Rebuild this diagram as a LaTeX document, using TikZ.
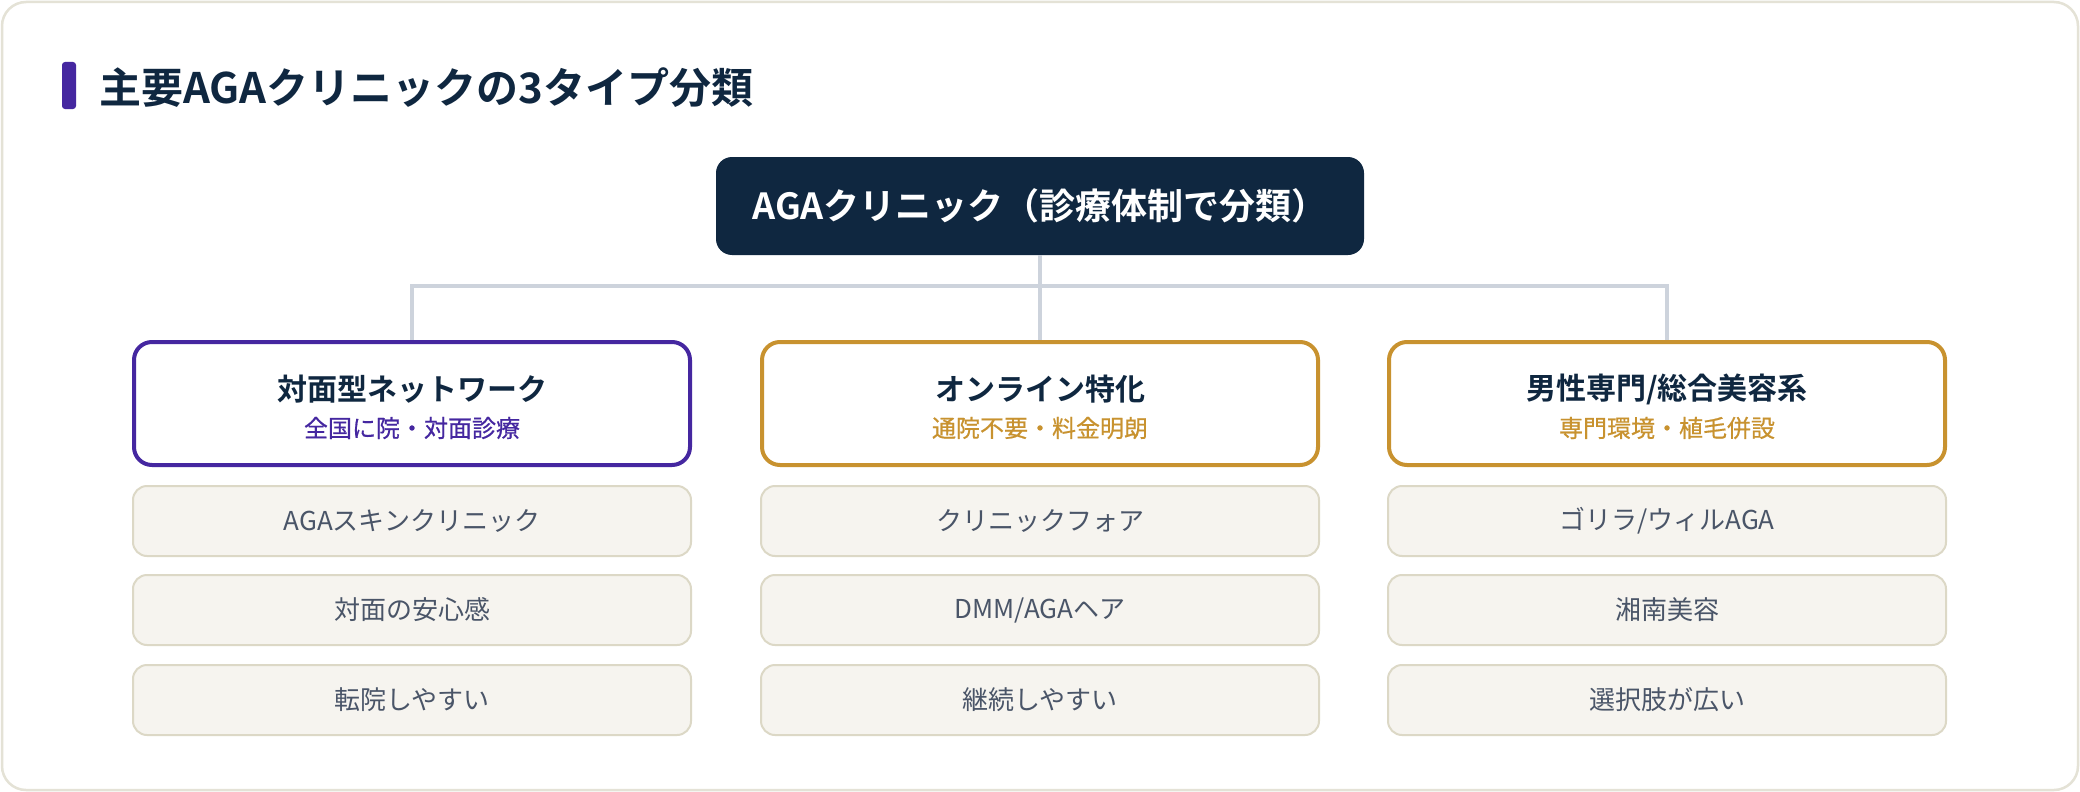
\documentclass[tikz,border=0pt]{standalone}
\usepackage{fontspec}
\setmainfont{Noto Sans CJK JP}[BoldFont={Noto Sans CJK JP Bold}]
\newfontfamily\subfont{Noto Sans CJK JP}[FakeBold=0.6]
\usepackage{xcolor}
\usepackage{tikz}
\usetikzlibrary{positioning}

\definecolor{navy}{HTML}{0F2740}
\definecolor{violet}{HTML}{4527A0}
\definecolor{gold}{HTML}{C8922F}
\definecolor{linkgray}{HTML}{CDD3DC}
\definecolor{itemfill}{HTML}{F6F4EF}
\definecolor{itemline}{HTML}{DCD8C6}
\definecolor{cardline}{HTML}{E4E2D6}
\definecolor{slate}{HTML}{4A5568}

\begin{document}
\begin{tikzpicture}[x=1pt, y=-1pt,
	rootbox/.style={fill=navy, rounded corners=16pt, minimum width=648pt, minimum height=98pt, text=white, font=\bfseries\fontsize{36}{43}\selectfont},
	catbox/.style={draw=#1, line width=4pt, fill=white, rounded corners=18pt, minimum width=556pt, minimum height=123pt},
	cattitle/.style={inner sep=0pt, text=navy, font=\bfseries\fontsize{30}{36}\selectfont},
	catsub/.style={inner sep=0pt, text=#1, font=\subfont\fontsize{24}{29}\selectfont},
	itembox/.style={draw=itemline, line width=2pt, fill=itemfill, rounded corners=14pt, minimum width=558pt, minimum height=70pt, text=slate, font=\fontsize{26}{31}\selectfont},
	link/.style={draw=linkgray, line width=3.5pt}]
	\useasboundingbox (0,0) rectangle (2080,792);
	% Card and heading:
	\draw[cardline, line width=2.5pt, fill=white, rounded corners=24pt] (2,2) rectangle (2078,790);
	\node[fill=violet, rounded corners=3pt, minimum width=14pt, minimum height=47pt, inner sep=0pt] (bar) at (69,85.5){};
	\node[anchor=west, inner sep=0pt, text=navy, font=\bfseries\fontsize{42}{50}\selectfont] (title) at (99,88){主要AGAクリニックの3タイプ分類};
	% Root and the three types:
	\node[rootbox] (root) at (1040,206){AGAクリニック（診療体制で分類）};
	\node[catbox=violet] (typeA) at (412,403.5){};
	\node[catbox=gold] (typeB) at (1040,403.5){};
	\node[catbox=gold] (typeC) at (1667,403.5){};
	\node[cattitle] (typeAt) at ([yshift=14.5pt]typeA.center){対面型ネットワーク};
	\node[catsub=violet] (typeAs) at ([yshift=-24.5pt]typeA.center){全国に院・対面診療};
	\node[cattitle] (typeBt) at ([yshift=14.5pt]typeB.center){オンライン特化};
	\node[catsub=gold] (typeBs) at ([yshift=-24.5pt]typeB.center){通院不要・料金明朗};
	\node[cattitle] (typeCt) at ([yshift=14.5pt]typeC.center){男性専門/総合美容系};
	\node[catsub=gold] (typeCs) at ([yshift=-24.5pt]typeC.center){専門環境・植毛併設};
	% Connectors:
	\coordinate (bus) at (1040,286);
	\draw[link] (root) -- (bus);
	\draw[link] (bus) -| (typeA);
	\draw[link] (bus) -| (typeC);
	\draw[link] (bus) -- (typeB);
	% Items:
	\node[itembox] (a1) at (412,521){AGAスキンクリニック};
	\node[itembox] (a2) at (412,610){対面の安心感};
	\node[itembox] (a3) at (412,700){転院しやすい};
	\node[itembox] (b1) at (1040,521){クリニックフォア};
	\node[itembox] (b2) at (1040,610){DMM/AGAヘア};
	\node[itembox] (b3) at (1040,700){継続しやすい};
	\node[itembox] (c1) at (1667,521){ゴリラ/ウィルAGA};
	\node[itembox] (c2) at (1667,610){湘南美容};
	\node[itembox] (c3) at (1667,700){選択肢が広い};
\end{tikzpicture}
\end{document}
